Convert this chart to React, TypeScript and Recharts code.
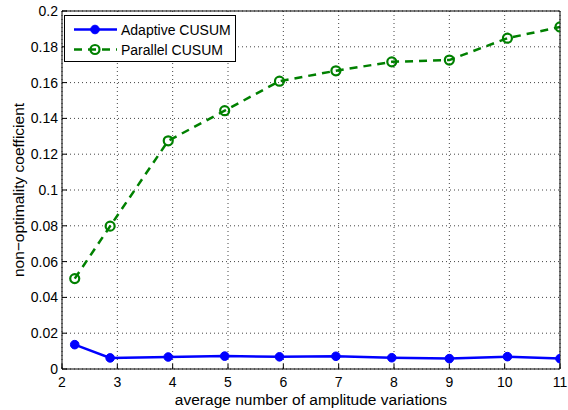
import React from 'react';
import {
  LineChart,
  Line,
  XAxis,
  YAxis,
  CartesianGrid,
  Label,
} from 'recharts';

const xValues = [2.23, 2.87, 3.92, 4.94, 5.93, 6.95, 7.96, 9.0, 10.05, 11.0];
const adaptiveCusum = [0.0136, 0.0062, 0.0067, 0.0072, 0.0068, 0.0071, 0.0063, 0.0058, 0.0069, 0.0058];
const parallelCusum = [0.0505, 0.0798, 0.1275, 0.1443, 0.1608, 0.1666, 0.1716, 0.1726, 0.1848, 0.1911];
const xTicks = [2, 3, 4, 5, 6, 7, 8, 9, 10, 11];
const yTicks = [0, 0.02, 0.04, 0.06, 0.08, 0.1, 0.12, 0.14, 0.16, 0.18, 0.2];

const data = xValues.map((x, i) => ({
  x,
  adaptive: adaptiveCusum[i],
  parallel: parallelCusum[i],
}));

const FONT = '"Liberation Sans", Arial, Helvetica, sans-serif';
const BLUE = '#0000ff';
const GREEN = '#008000';

const tickStyle = { fill: '#000', fontSize: 14, fontFamily: FONT };
const labelStyle = { fill: '#000', fontSize: 15.5, fontFamily: FONT };

// legend drawn as an overlay so it doesn't eat plot space
const LegendBox = () => (
  <div
    style={{
      position: 'absolute',
      left: 64,
      top: 15,
      width: 172,
      height: 47,
      border: '1px solid #000',
      background: '#fff',
      boxSizing: 'border-box',
    }}
  >
    <svg width={170} height={45} style={{ position: 'absolute', left: 0, top: 0 }}>
      <line x1={9} x2={52} y1={13.5} y2={13.5} stroke={BLUE} strokeWidth={2.5} />
      <circle cx={30} cy={13.5} r={4.3} fill={BLUE} stroke={BLUE} />
      <line x1={9} x2={52} y1={33.5} y2={33.5} stroke={GREEN} strokeWidth={2.5} strokeDasharray="8 6" />
      <circle cx={30} cy={33.5} r={4.5} fill="none" stroke={GREEN} strokeWidth={2.2} />
      <text x={56} y={18.5} fontSize={14} fontFamily={FONT} fill="#000">Adaptive CUSUM</text>
      <text x={56} y={38.5} fontSize={14} fontFamily={FONT} fill="#000">Parallel CUSUM</text>
    </svg>
  </div>
);

export default function App() {
  return (
    <div style={{ position: 'absolute', left: 0, top: 0, width: 568, height: 410, background: '#fff', fontFamily: FONT }}>
      <LineChart
        width={568}
        height={410}
        data={data}
        margin={{ top: 10, right: 7, left: 0, bottom: 0 }}
      >
        <CartesianGrid xAxisId="bottom" yAxisId="left" stroke="#444" strokeDasharray="1 3" />
        <XAxis
          xAxisId="bottom"
          dataKey="x"
          type="number"
          domain={[2, 11]}
          ticks={xTicks}
          height={41}
          tick={tickStyle}
          tickSize={-5}
          tickMargin={13}
          stroke="#000"
          tickLine={{ stroke: '#000' }}
          allowDataOverflow
        >
          <Label
            value="average number of amplitude variations"
            position="insideBottom"
            offset={5}
            style={labelStyle}
          />
        </XAxis>
        <XAxis
          xAxisId="top"
          orientation="top"
          dataKey="x"
          type="number"
          domain={[2, 11]}
          ticks={xTicks}
          height={1}
          tick={false}
          tickSize={-5}
          stroke="#000"
          tickLine={{ stroke: '#000' }}
        />
        <YAxis
          yAxisId="left"
          type="number"
          domain={[0, 0.2]}
          ticks={yTicks}
          width={62}
          tick={tickStyle}
          tickSize={-5}
          tickMargin={9}
          stroke="#000"
          tickLine={{ stroke: '#000' }}
          tickFormatter={(v: number) => String(Number(v.toFixed(2)))}
        >
          <Label
            value="non−optimality coefficient"
            angle={-90}
            position="center"
            dx={-13}
            style={{ ...labelStyle, textAnchor: 'middle' }}
          />
        </YAxis>
        <YAxis
          yAxisId="right"
          orientation="right"
          type="number"
          domain={[0, 0.2]}
          ticks={yTicks}
          width={1}
          tick={false}
          tickSize={-5}
          stroke="#000"
          tickLine={{ stroke: '#000' }}
        />
        <Line
          xAxisId="bottom"
          yAxisId="left"
          dataKey="adaptive"
          name="Adaptive CUSUM"
          stroke={BLUE}
          strokeWidth={2.5}
          dot={{ r: 4.3, fill: BLUE, stroke: BLUE, strokeWidth: 1 }}
          activeDot={false}
          isAnimationActive={false}
        />
        <Line
          xAxisId="bottom"
          yAxisId="left"
          dataKey="parallel"
          name="Parallel CUSUM"
          stroke={GREEN}
          strokeWidth={2.5}
          strokeDasharray="8 6"
          dot={{ r: 4.5, fill: 'none', stroke: GREEN, strokeWidth: 2.2, strokeDasharray: '' }}
          activeDot={false}
          isAnimationActive={false}
        />
      </LineChart>
      <LegendBox />
    </div>
  );
}
